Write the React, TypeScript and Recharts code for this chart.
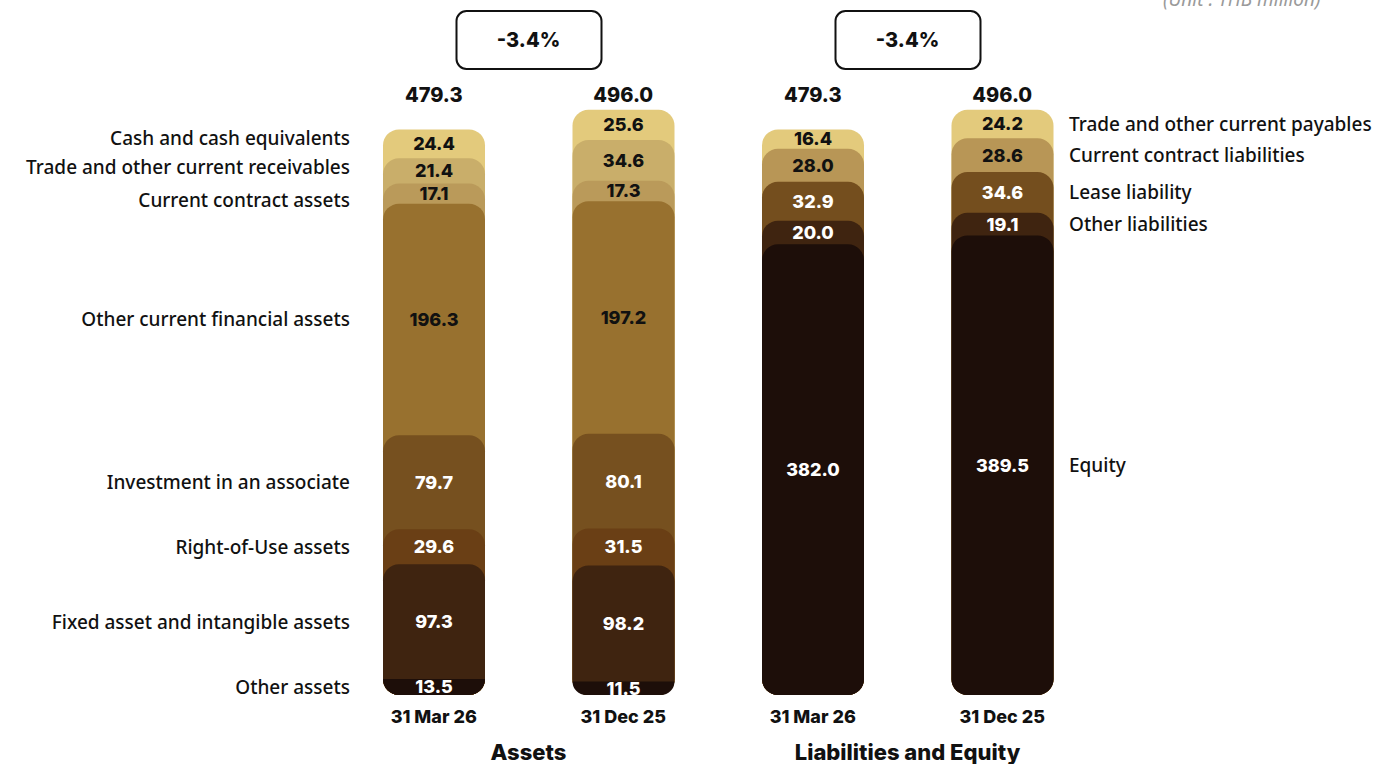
import React from "react";
import { BarChart, Bar, XAxis, YAxis, LabelList } from "recharts";

const dates = ["31 Mar 26", "31 Dec 25", "31 Mar 26", "31 Dec 25"];
const groups = ["Assets", "Assets", "Liabilities and Equity", "Liabilities and Equity"];
const totals = ["479.3", "496.0", "479.3", "496.0"];
const changes = ["-3.4%", "-3.4%"];

// assets (THB million): 31 Mar 26, 31 Dec 25
const cash = [24.4, 25.6];
const receivables = [21.4, 34.6];
const contractAssets = [17.1, 17.3];
const otherFinancial = [196.3, 197.2];
const investment = [79.7, 80.1];
const rouAssets = [29.6, 31.5];
const fixedAssets = [97.3, 98.2];
const otherAssets = [13.5, 11.5];

// liabilities and equity: 31 Mar 26, 31 Dec 25
const payables = [16.4, 24.2];
const contractLiab = [28.0, 28.6];
const leaseLiab = [32.9, 34.6];
const otherLiab = [20.0, 19.1];
const equity = [382.0, 389.5];

const NUM_FONT = "Inter, 'Noto Sans', sans-serif";
const TXT_FONT = "'Noto Sans', 'Open Sans', sans-serif";
const R = 16;

// listed top to bottom; nudge keeps the side names from touching
const assetSeries = [
  { key: "cash", name: "Cash and cash equivalents", values: cash, color: "#E3CA7C", text: "#111", nudge: -6 },
  { key: "recv", name: "Trade and other current receivables", values: receivables, color: "#C9AE6A", text: "#111", nudge: -4 },
  { key: "cAsset", name: "Current contract assets", values: contractAssets, color: "#BA9A5A", text: "#111", nudge: 6 },
  { key: "ofa", name: "Other current financial assets", values: otherFinancial, color: "#98712F", text: "#111", nudge: 0 },
  { key: "inv", name: "Investment in an associate", values: investment, color: "#76501F", text: "#fff", nudge: 0 },
  { key: "rou", name: "Right-of-Use assets", values: rouAssets, color: "#6A3F15", text: "#fff", nudge: 0 },
  { key: "fixed", name: "Fixed asset and intangible assets", values: fixedAssets, color: "#3F2410", text: "#fff", nudge: 0 },
  { key: "oth", name: "Other assets", values: otherAssets, color: "#1D0E09", text: "#fff", nudge: 0 },
];

const liabSeries = [
  { key: "pay", name: "Trade and other current payables", values: payables, color: "#E3CA7C", text: "#111", nudge: 0 },
  { key: "cLiab", name: "Current contract liabilities", values: contractLiab, color: "#B89656", text: "#111", nudge: 0 },
  { key: "lease", name: "Lease liability", values: leaseLiab, color: "#744E1E", text: "#fff", nudge: 0 },
  { key: "oLiab", name: "Other liabilities", values: otherLiab, color: "#3F2410", text: "#fff", nudge: 0 },
  { key: "eq", name: "Equity", values: equity, color: "#1D0E09", text: "#fff", nudge: 0 },
];

const rows = dates.map((date, i) => {
  const row: Record<string, any> = { date, group: groups[i], total: totals[i] };
  assetSeries.forEach((s) => (row[s.key] = i < 2 ? s.values[i] : null));
  liabSeries.forEach((s) => (row[s.key] = i >= 2 ? s.values[i - 2] : null));
  return row;
});

// each segment runs down to the base so the one below overlaps it
function Segment(props: any) {
  const { x, y, width, height, fill, background } = props;
  if (!height || height <= 0) return null;
  const base = background ? background.y + background.height : y + height;
  const h = base - y;
  const rb = Math.min(R, h);
  const rt = Math.min(R, h - rb);
  const d = [
    `M${x},${y + rt}`,
    rt > 0 ? `A${rt},${rt} 0 0 1 ${x + rt},${y}` : "",
    `L${x + width - rt},${y}`,
    rt > 0 ? `A${rt},${rt} 0 0 1 ${x + width},${y + rt}` : "",
    `L${x + width},${base - rb}`,
    `A${rb},${rb} 0 0 1 ${x + width - rb},${base}`,
    `L${x + rb},${base}`,
    `A${rb},${rb} 0 0 1 ${x},${base - rb}`,
    "Z",
  ].join(" ");
  return <path d={d} fill={fill} />;
}

function nameLabel(name: string, idx: number, side: "left" | "right", nudge: number) {
  return (p: any) => {
    if (p.index !== idx || p.value == null) return null;
    const vb = p.viewBox || p;
    const cy = vb.y + vb.height / 2 + nudge;
    return (
      <text
        x={side === "left" ? 350 : 1069}
        y={cy}
        textAnchor={side === "left" ? "end" : "start"}
        dominantBaseline="central"
        fontFamily={TXT_FONT}
        fontSize={19}
        fontWeight={500}
        fill="#111"
      >
        {name}
      </text>
    );
  };
}

function ChangeTick(props: any) {
  const { x, y, index } = props;
  return (
    <g>
      <rect x={x - 72} y={y - 64} width={145} height={58} rx={10} fill="#fff" stroke="#111" strokeWidth={2} />
      <text x={x} y={y - 35} textAnchor="middle" dominantBaseline="central" fontFamily={NUM_FONT} fontSize={20} fontWeight={800} fill="#111">
        {changes[index]}
      </text>
    </g>
  );
}

const fmt = (v: any) => (v == null ? "" : Number(v).toFixed(1));

export default function App() {
  const allSeries = [...assetSeries, ...liabSeries];
  return (
    <div style={{ position: "absolute", left: 0, top: 0, width: 1393, height: 764, background: "#fff", overflow: "hidden" }}>
      <div
        style={{
          position: "absolute",
          left: 1163,
          top: -12,
          fontFamily: TXT_FONT,
          fontStyle: "italic",
          fontSize: 19,
          lineHeight: "22px",
          color: "#9a9a9a",
        }}
      >
        (Unit : THB million)
      </div>
      <BarChart
        width={1393}
        height={764}
        data={rows}
        margin={{ top: 0, right: 296, bottom: 0, left: 339 }}
        barSize={102}
        reverseStackOrder
      >
        <YAxis hide domain={[0, 500]} />
        <XAxis
          dataKey="date"
          height={36}
          axisLine={false}
          tickLine={false}
          tickSize={0}
          tickMargin={15}
          interval={0}
          tick={{ fontFamily: NUM_FONT, fontSize: 18, fontWeight: 800, fill: "#111" }}
        />
        <XAxis
          xAxisId="grp"
          dataKey="group"
          allowDuplicatedCategory={false}
          height={33}
          axisLine={false}
          tickLine={false}
          tickSize={0}
          tickMargin={13}
          interval={0}
          tick={{ fontFamily: NUM_FONT, fontSize: 22, fontWeight: 800, fill: "#111" }}
        />
        <XAxis
          xAxisId="t1"
          orientation="top"
          dataKey="total"
          height={30}
          axisLine={false}
          tickLine={false}
          tickSize={0}
          tickMargin={3}
          interval={0}
          tick={{ fontFamily: NUM_FONT, fontSize: 20, fontWeight: 800, fill: "#111" }}
        />
        <XAxis
          xAxisId="t2"
          orientation="top"
          dataKey="group"
          allowDuplicatedCategory={false}
          height={75}
          axisLine={false}
          tickLine={false}
          tickSize={0}
          tickMargin={0}
          interval={0}
          tick={<ChangeTick />}
        />
        {allSeries.map((s) => {
          const isAsset = assetSeries.includes(s);
          return (
            <Bar key={s.key} dataKey={s.key} name={s.name} stackId="a" fill={s.color} shape={<Segment />} isAnimationActive={false}>
              <LabelList
                dataKey={s.key}
                position="center"
                formatter={fmt}
                fill={s.text}
                fontFamily={NUM_FONT}
                fontSize={18}
                fontWeight={800}
              />
              <LabelList dataKey={s.key} content={nameLabel(s.name, isAsset ? 0 : 3, isAsset ? "left" : "right", s.nudge)} />
            </Bar>
          );
        })}
      </BarChart>
    </div>
  );
}
